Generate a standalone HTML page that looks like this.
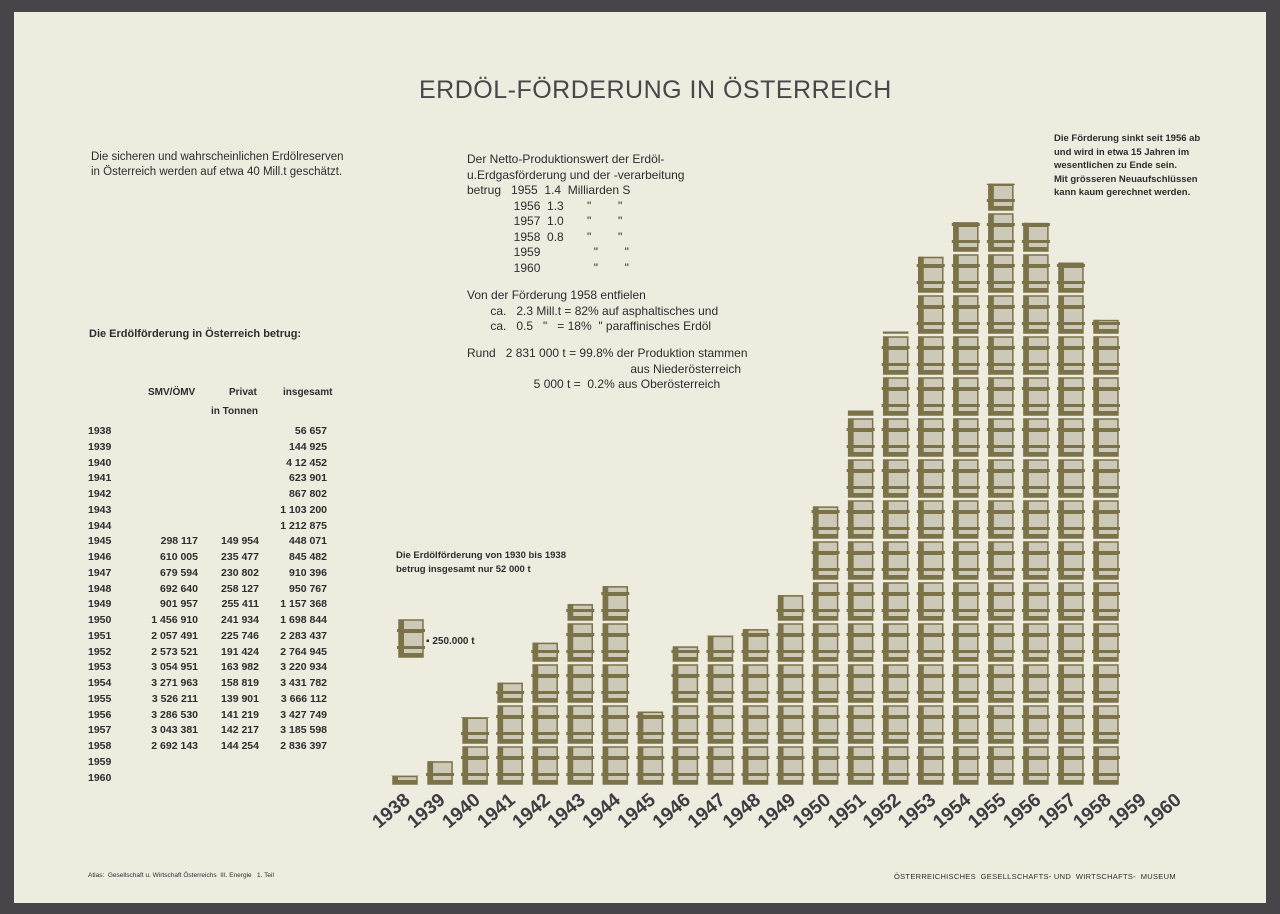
<!DOCTYPE html>
<html><head><meta charset="utf-8">
<style>
html,body{margin:0;padding:0;}
body{width:1280px;height:914px;background:#47454a;position:relative;overflow:hidden;font-family:"Liberation Sans",sans-serif;}
#paper{position:absolute;left:14px;top:12px;width:1252px;height:891px;background:#eeebdf;}
.t{position:absolute;color:#2e2c2e;font-weight:bold;white-space:nowrap;}
svg{position:absolute;left:0;top:0;}
</style></head><body>
<div id="paper"></div>
<div class="t" style="left:419px;top:76px;font-size:25px;color:#48464a;font-weight:normal;letter-spacing:0.5px;">ERDÖL-FÖRDERUNG IN ÖSTERREICH</div>
<div class="t" style="left:91px;top:150px;font-size:11.5px;line-height:15px;font-weight:normal;">Die sicheren und wahrscheinlichen Erdölreserven<br>in Österreich werden auf etwa 40 Mill.t geschätzt.</div>
<div class="t" style="left:467px;top:152px;font-size:12px;line-height:15.5px;font-weight:normal;">Der Netto-Produktionswert der Erdöl-<br>u.Erdgasförderung und der -verarbeitung<br>betrug &nbsp;&nbsp;1955 &nbsp;1.4 &nbsp;Milliarden S<br>&nbsp;&nbsp;&nbsp;&nbsp;&nbsp;&nbsp;&nbsp;&nbsp;&nbsp;&nbsp;&nbsp;&nbsp;&nbsp;&nbsp;1956 &nbsp;1.3 &nbsp;&nbsp;&nbsp;&nbsp;&nbsp;&nbsp;" &nbsp;&nbsp;&nbsp;&nbsp;&nbsp;&nbsp;&nbsp;"<br>&nbsp;&nbsp;&nbsp;&nbsp;&nbsp;&nbsp;&nbsp;&nbsp;&nbsp;&nbsp;&nbsp;&nbsp;&nbsp;&nbsp;1957 &nbsp;1.0 &nbsp;&nbsp;&nbsp;&nbsp;&nbsp;&nbsp;" &nbsp;&nbsp;&nbsp;&nbsp;&nbsp;&nbsp;&nbsp;"<br>&nbsp;&nbsp;&nbsp;&nbsp;&nbsp;&nbsp;&nbsp;&nbsp;&nbsp;&nbsp;&nbsp;&nbsp;&nbsp;&nbsp;1958 &nbsp;0.8 &nbsp;&nbsp;&nbsp;&nbsp;&nbsp;&nbsp;" &nbsp;&nbsp;&nbsp;&nbsp;&nbsp;&nbsp;&nbsp;"<br>&nbsp;&nbsp;&nbsp;&nbsp;&nbsp;&nbsp;&nbsp;&nbsp;&nbsp;&nbsp;&nbsp;&nbsp;&nbsp;&nbsp;1959 &nbsp;&nbsp;&nbsp;&nbsp;&nbsp;&nbsp;&nbsp;&nbsp;&nbsp;&nbsp;&nbsp;&nbsp;&nbsp;&nbsp;&nbsp;" &nbsp;&nbsp;&nbsp;&nbsp;&nbsp;&nbsp;&nbsp;"<br>&nbsp;&nbsp;&nbsp;&nbsp;&nbsp;&nbsp;&nbsp;&nbsp;&nbsp;&nbsp;&nbsp;&nbsp;&nbsp;&nbsp;1960 &nbsp;&nbsp;&nbsp;&nbsp;&nbsp;&nbsp;&nbsp;&nbsp;&nbsp;&nbsp;&nbsp;&nbsp;&nbsp;&nbsp;&nbsp;" &nbsp;&nbsp;&nbsp;&nbsp;&nbsp;&nbsp;&nbsp;"</div>
<div class="t" style="left:467px;top:288px;font-size:12px;line-height:15.5px;font-weight:normal;">Von der Förderung 1958 entfielen<br>&nbsp;&nbsp;&nbsp;&nbsp;&nbsp;&nbsp;&nbsp;ca. &nbsp;&nbsp;2.3 Mill.t = 82% auf asphaltisches und<br>&nbsp;&nbsp;&nbsp;&nbsp;&nbsp;&nbsp;&nbsp;ca. &nbsp;&nbsp;0.5 &nbsp;&nbsp;" &nbsp;&nbsp;= 18% &nbsp;" paraffinisches Erdöl</div>
<div class="t" style="left:467px;top:346px;font-size:12px;line-height:15.5px;font-weight:normal;">Rund &nbsp;&nbsp;2 831 000 t = 99.8% der Produktion stammen<br>&nbsp;&nbsp;&nbsp;&nbsp;&nbsp;&nbsp;&nbsp;&nbsp;&nbsp;&nbsp;&nbsp;&nbsp;&nbsp;&nbsp;&nbsp;&nbsp;&nbsp;&nbsp;&nbsp;&nbsp;&nbsp;&nbsp;&nbsp;&nbsp;&nbsp;&nbsp;&nbsp;&nbsp;&nbsp;&nbsp;&nbsp;&nbsp;&nbsp;&nbsp;&nbsp;&nbsp;&nbsp;&nbsp;&nbsp;&nbsp;&nbsp;&nbsp;&nbsp;&nbsp;&nbsp;&nbsp;&nbsp;&nbsp;&nbsp;aus Niederösterreich<br>&nbsp;&nbsp;&nbsp;&nbsp;&nbsp;&nbsp;&nbsp;&nbsp;&nbsp;&nbsp;&nbsp;&nbsp;&nbsp;&nbsp;&nbsp;&nbsp;&nbsp;&nbsp;&nbsp;&nbsp;5 000 t = &nbsp;0.2% aus Oberösterreich</div>
<div class="t" style="left:1054px;top:132px;font-size:9.5px;line-height:13.5px;">Die Förderung sinkt seit 1956 ab<br>und wird in etwa 15 Jahren im<br>wesentlichen zu Ende sein.<br>Mit grösseren Neuaufschlüssen<br>kann kaum gerechnet werden.</div>
<div class="t" style="left:89px;top:328px;font-size:11px;">Die Erdölförderung in Österreich betrug:</div>
<div class="t" style="left:396px;top:549px;font-size:9.5px;line-height:14px;">Die Erdölförderung von 1930 bis 1938<br>betrug insgesamt nur 52 000 t</div>
<div class="t" style="left:426px;top:636px;font-size:10px;">▪ 250.000 t</div>
<div class="t" style="left:88px;top:872px;font-size:6.5px;font-weight:normal;">Atlas: &nbsp;Gesellschaft u. Wirtschaft Österreichs &nbsp;III. Energie &nbsp;&nbsp;1. Teil</div>
<div class="t" style="left:894px;top:872px;font-size:7.5px;font-weight:normal;letter-spacing:0.3px;">ÖSTERREICHISCHES &nbsp;GESELLSCHAFTS- UND &nbsp;WIRTSCHAFTS- &nbsp;MUSEUM</div>
<div id="tbl"></div>
<svg id="s" width="1280" height="914"></svg>
<script>
var rows=[["1938","","","56 657"],["1939","","","144 925"],["1940","","","4 12 452"],["1941","","","623 901"],["1942","","","867 802"],["1943","","","1 103 200"],["1944","","","1 212 875"],["1945","298 117","149 954","448 071"],["1946","610 005","235 477","845 482"],["1947","679 594","230 802","910 396"],["1948","692 640","258 127","950 767"],["1949","901 957","255 411","1 157 368"],["1950","1 456 910","241 934","1 698 844"],["1951","2 057 491","225 746","2 283 437"],["1952","2 573 521","191 424","2 764 945"],["1953","3 054 951","163 982","3 220 934"],["1954","3 271 963","158 819","3 431 782"],["1955","3 526 211","139 901","3 666 112"],["1956","3 286 530","141 219","3 427 749"],["1957","3 043 381","142 217","3 185 598"],["1958","2 692 143","144 254","2 836 397"],["1959","","",""],["1960","","",""]];
var h='<div class="t" style="left:148px;top:387px;font-size:10px;">SMV/ÖMV</div><div class="t" style="left:229px;top:387px;font-size:10px;">Privat</div><div class="t" style="left:283px;top:387px;font-size:10px;">insgesamt</div><div class="t" style="left:211px;top:406px;font-size:10px;">in Tonnen</div>';
rows.forEach(function(r,i){var y=425+i*15.75;
h+='<div class="t" style="left:88px;top:'+y+'px;font-size:10.5px;">'+r[0]+'</div>';
h+='<div class="t" style="right:'+(1280-198)+'px;top:'+y+'px;font-size:10.5px;">'+r[1]+'</div>';
h+='<div class="t" style="right:'+(1280-259)+'px;top:'+y+'px;font-size:10.5px;">'+r[2]+'</div>';
h+='<div class="t" style="right:'+(1280-327)+'px;top:'+y+'px;font-size:10.5px;">'+r[3]+'</div>';});
document.getElementById('tbl').innerHTML=h;
var vals=[56657,144925,412452,623901,867802,1103200,1212875,448071,845482,910396,950767,1157368,1698844,2283437,2764945,3220934,3431782,3666112,3427749,3185598,2836397,0,0];
var U=41,base=785,D='#7b7248',L='#cdc9b8';
function barrel(cx,y){
 var s='';var t=y+3;
 s+='<rect x="'+(cx-12)+'" y="'+t+'" width="24" height="37" fill="'+L+'" stroke="'+D+'" stroke-width="1.5"/>';
 s+='<rect x="'+(cx-12)+'" y="'+t+'" width="5" height="37" fill="'+D+'"/>';
 s+='<rect x="'+(cx-12)+'" y="'+(t+9)+'" width="24" height="4" fill="'+D+'"/>';
 s+='<rect x="'+(cx-14)+'" y="'+(t+9)+'" width="28" height="3" fill="'+D+'"/>';
 s+='<rect x="'+(cx-14)+'" y="'+(t+26)+'" width="28" height="3" fill="'+D+'"/>';
 s+='<rect x="'+(cx-12)+'" y="'+(t+33)+'" width="24" height="4" fill="'+D+'"/>';
 return s;}
var svg='<defs>';var body='';
vals.forEach(function(v,i){var cx=405+i*35.05;var n=v/250000;var top=base-n*U;
 if(v>0){svg+='<clipPath id="c'+i+'"><rect x="0" y="'+top+'" width="1280" height="'+(base-top+2)+'"/></clipPath>';
 body+='<g clip-path="url(#c'+i+')">';for(var k=0;k<Math.ceil(n);k++){body+=barrel(cx,base-(k+1)*U);}body+='</g>';
 if(n%1>0.05){body+='<rect x="'+(cx-12)+'" y="'+top+'" width="24" height="1.5" fill="'+D+'"/>';}}
 var ax=cx-2, ay=792;
 body+='<text x="'+ax+'" y="'+ay+'" transform="rotate(-40 '+ax+' '+ay+')" text-anchor="end" font-family="Liberation Sans" font-weight="bold" font-size="19" fill="#3e3c40" dominant-baseline="hanging">'+(1938+i)+'</text>';});
svg+='</defs>';
body+=barrel(411,617);
document.getElementById('s').innerHTML=svg+body;
</script>
</body></html>
